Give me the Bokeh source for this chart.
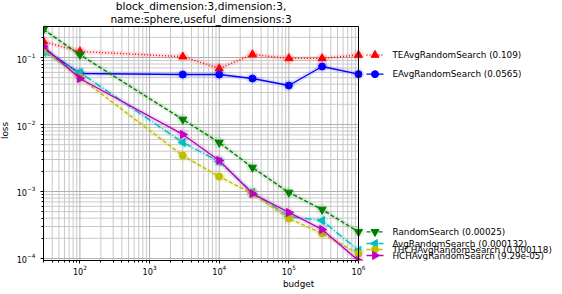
import math
from bokeh.plotting import figure
from bokeh.models import Range1d, FixedTicker, BoxAnnotation
from bokeh.core.properties import value
from bokeh.embed import file_html
from bokeh.resources import INLINE

# ---------------- data ----------------
budgets = [30, 100, 3000, 10000, 30000, 100000, 300000, 1000000]

names = ["TEAvgRandomSearch", "EAvgRandomSearch", "RandomSearch",
         "AvgRandomSearch", "THCHAvgRandomSearch", "HCHAvgRandomSearch"]

te_loss = [0.173, 0.123, 0.103, 0.0686, 0.111, 0.097, 0.097, 0.109]
e_loss = [0.136, 0.0577, 0.0557, 0.0557, 0.0486, 0.0382, 0.0734, 0.0565]
rs_loss = [0.262, 0.11, 0.0119, 0.00538, 0.00228, 0.000966, 0.000538, 0.00025]
avg_loss = [0.119, 0.0597, 0.00538, 0.0028, 0.00097, 0.000424, 0.000369, 0.000132]
thch_loss = [0.131, 0.0502, 0.00344, 0.00167, 0.00093, 0.000396, 0.000236, 0.000118]
hch_loss = [0.146, 0.0486, 0.0071, 0.0029, 0.00093, 0.000486, 0.000271, 0.0000929]

losses = [te_loss, e_loss, rs_loss, avg_loss, thch_loss, hch_loss]

title_lines = ["block_dimension:3,dimension:3,", "name:sphere,useful_dimensions:3"]
x_label = "budget"
y_label = "loss"

# ---------------- styles ----------------
colors = ["#ff0000", "#0000ff", "#008000", "#00bfbf", "#bfbf00", "#bf00bf"]
dashes = ["1 2", "solid", "4 2", "7 2 1 2", "4 2", "solid"]
markers = ["triangle", "circle", "inverted_triangle", "triangle", "circle", "triangle"]
angles = [0.0, 0.0, 0.0, math.pi / 2, 0.0, -math.pi / 2]
msizes = [8, 7, 8, 8, 7, 8]

FONT = "DejaVu Sans"
X_LO, X_HI = 30, 1e6
Y_LO, Y_HI = 10 ** -4.03, 10 ** -0.537
PLOT_W, PLOT_H = 315, 234          # plotting area in px
TOP_PAD, RIGHT_PAD = 26, 195       # title area above, legend area right

ppdx = PLOT_W / (math.log10(X_HI) - math.log10(X_LO))
ppdy = PLOT_H / (math.log10(Y_HI) - math.log10(Y_LO))
X_EXT = 10 ** (math.log10(X_HI) + RIGHT_PAD / ppdx)
Y_EXT = 10 ** (math.log10(Y_HI) + TOP_PAD / ppdy)


def xpx(px):   # data x at px to the right of the plotting area
    return 10 ** (math.log10(X_HI) + px / ppdx)


def ypx(px):   # data y at px above the plotting area
    return 10 ** (math.log10(Y_HI) + px / ppdy)


major_x = [10 ** e for e in range(2, 7)]
minor_x = [k * 10 ** e for e in range(1, 6) for k in range(2, 10)
           if X_LO <= k * 10 ** e <= X_HI]
major_y = [10 ** e for e in range(-4, 0)]
minor_y = [k * 10 ** e for e in range(-5, 0) for k in range(2, 10)
           if Y_LO <= k * 10 ** e <= Y_HI]

p = figure(frame_width=PLOT_W + RIGHT_PAD, frame_height=PLOT_H + TOP_PAD,
           x_axis_type="log", y_axis_type="log",
           x_range=Range1d(X_LO, X_EXT), y_range=Range1d(Y_LO, Y_EXT),
           min_border_left=40, min_border_right=0, min_border_top=0,
           min_border_bottom=0, toolbar_location=None, output_backend="svg",
           title_location=None)
p.outline_line_color = None
p.border_fill_color = "white"
p.background_fill_color = "white"
p.grid.visible = False

# grid lines limited to the plotting area
p.segment(x0=minor_x, y0=[Y_LO] * len(minor_x), x1=minor_x,
          y1=[Y_HI] * len(minor_x), line_color="#c8c8c8", line_width=1)
p.segment(x0=[X_LO] * len(minor_y), y0=minor_y, x1=[X_HI] * len(minor_y),
          y1=minor_y, line_color="#c8c8c8", line_width=1)
p.segment(x0=major_x, y0=[Y_LO] * len(major_x), x1=major_x,
          y1=[Y_HI] * len(major_x), line_color="#b0b0b0", line_width=1)
p.segment(x0=[X_LO] * len(major_y), y0=major_y, x1=[X_HI] * len(major_y),
          y1=major_y, line_color="#b0b0b0", line_width=1)

for ax, mj, mn, bnd in ((p.xaxis[0], major_x, minor_x, (X_LO, X_HI)),
                        (p.yaxis[0], major_y, minor_y, (Y_LO, Y_HI))):
    ax.ticker = FixedTicker(ticks=mj, minor_ticks=mn)
    ax.bounds = bnd
    ax.axis_line_color = "black"
    ax.major_tick_line_color = "black"
    ax.minor_tick_line_color = "black"
    ax.major_tick_in = 0
    ax.major_tick_out = 3
    ax.minor_tick_in = 0
    ax.minor_tick_out = 2
    ax.major_label_text_font = FONT
    ax.major_label_text_font_size = "8.2px"
    ax.major_label_text_color = "black"
    ax.axis_label_text_font = FONT
    ax.axis_label_text_font_size = "8.8px"
    ax.axis_label_text_font_style = "normal"
    ax.axis_label_text_color = "black"

p.xaxis.axis_label = x_label
p.yaxis.axis_label = y_label
p.xaxis.major_label_standoff = 1
p.xaxis.axis_label_standoff = 1
p.yaxis.major_label_standoff = 5
p.yaxis.axis_label_standoff = 4

# data series
for ys, c, d, m, a, s in zip(losses, colors, dashes, markers, angles, msizes):
    p.line(budgets, ys, line_color=c, line_width=5, line_alpha=0.1)
    p.scatter(budgets, ys, marker="circle", size=12, fill_color=c,
              fill_alpha=0.1, line_color=None)
    p.line(budgets, ys, line_color=c, line_width=1.4, line_dash=d)
    p.scatter(budgets, ys, marker=m, angle=a, size=s, fill_color=c,
              line_color=c)

# frame box around the plotting area
p.add_layout(BoxAnnotation(left=X_LO, right=X_HI, bottom=Y_LO, top=Y_HI,
                           fill_alpha=0, line_color="black", line_width=1,
                           line_alpha=1))

# title
p.text(x=[10 ** ((math.log10(X_LO) + math.log10(X_HI)) / 2)] * 2,
       y=[ypx(20.6), ypx(8.0)], text=title_lines,
       text_font=value(FONT), text_font_size="10.6px",
       text_align="center", text_baseline="middle", text_color="black")

# legend entries at the final values
finals = [ys[-1] for ys in losses]
order = sorted(range(len(finals)), key=lambda i: finals[i])
min_gap = 6 / ppdy
floor_log = math.log10(Y_LO) + 5 / ppdy
label_log = [0.0] * len(finals)
prev = None
for i in order:
    lg = max(math.log10(finals[i]), floor_log)
    if prev is not None and lg < prev + min_gap:
        lg = prev + min_gap
    label_log[i] = lg
    prev = lg
label_y = [10 ** v for v in label_log]
labels = [f"{n} ({f:.3g})" for n, f in zip(names, finals)]

for ly, c, d, m, a, s in zip(label_y, colors, dashes, markers, angles, msizes):
    p.line([xpx(8), xpx(25)], [ly, ly], line_color=c, line_width=1.4,
           line_dash=d)
    p.scatter([xpx(16.5)], [ly], marker=m, angle=a, size=s, fill_color=c,
              line_color=c)

p.text(x=[xpx(34)] * len(labels), y=label_y, text=labels,
       text_font=value(FONT), text_font_size="8.8px",
       text_baseline="middle", text_align="left", text_color="black")

p.margin = (-8, 0, -20, -4)
p.styles = {"position": "relative", "top": "8px"}

open("out.html", "w").write(file_html(p, INLINE))
